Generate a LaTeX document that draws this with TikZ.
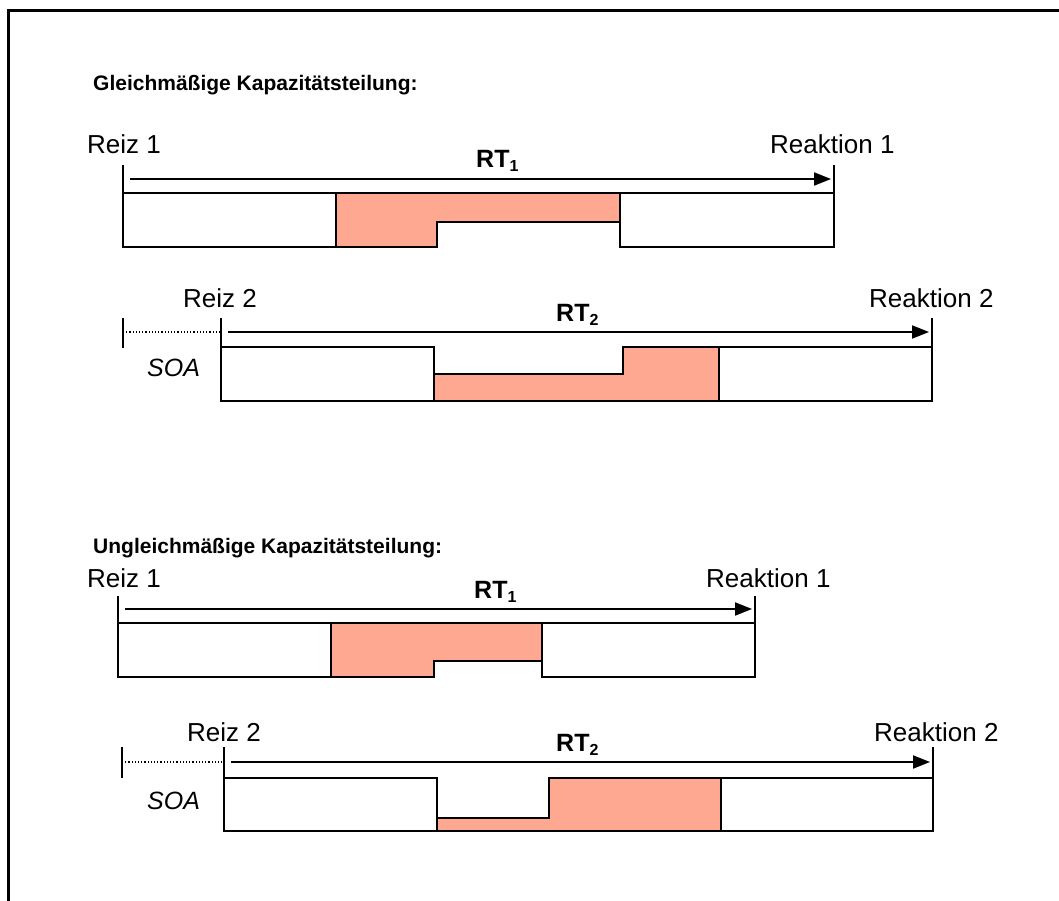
\documentclass[tikz,border=0pt]{standalone}
\usepackage{fontspec}
\setmainfont{Liberation Sans}
\usetikzlibrary{arrows.meta}
\definecolor{load}{RGB}{255,168,145}

\begin{document}
\begin{tikzpicture}[x=1pt,y=-1pt,
  lbl/.style={anchor=base west, inner sep=0pt, font=\fontsize{26}{30}\selectfont},
  head/.style={anchor=base west, inner sep=0pt, font=\fontsize{21}{25}\selectfont\bfseries},
  rt/.style={anchor=base west, inner sep=0pt, font=\fontsize{25}{30}\selectfont\bfseries},
  soa/.style={anchor=base west, inner sep=0pt, font=\fontsize{25}{30}\selectfont\itshape},
  tick/.style={line width=2pt},
  box/.style={line width=2pt, line join=miter},
  time/.style={line width=2pt, -{Triangle[length=17pt,width=13pt]}},
  lag/.style={line width=1.2pt, dotted},
  share/.style={fill=load, draw=none},
  frame/.style={line width=3pt, line join=miter}
]
\newcommand{\RTsub}[1]{RT\raisebox{-4pt}{\fontsize{16}{16}\selectfont\bfseries #1}}
\useasboundingbox (0,0) rectangle (1059,901);
\fill[white] (0,0) rectangle (1059,901);
\draw[frame] (8,901) -- (8,11) -- (1059,11);

% ---------- equal sharing ----------
\node[head] (titleA) at (93,91) {Gleichmäßige Kapazitätsteilung:};

% task 1
\node[lbl] (reizA1) at (87,154) {Reiz 1};
\node[lbl] (reakA1) at (770,154) {Reaktion 1};
\coordinate (sA1) at (123,179);
\coordinate (eA1) at (834,179);
\draw[tick] (123,165) -- (123,193);
\draw[tick] (834,165) -- (834,193);
\draw[time] ([xshift=7pt]sA1) -- ([xshift=-3pt]eA1);
\node[rt] (rtA1) at (476,168) {\RTsub{1}};
\fill[share] (336,193) -- (620,193) -- (620,222) -- (437,222) -- (437,247) -- (336,247) -- cycle;
\draw[box] (123,193) -- (834,193) -- (834,247) -- (620,247) -- (620,222) -- (437,222) -- (437,247) -- (123,247) -- cycle;
\draw[box] (336,193) -- (336,247);
\draw[box] (620,193) -- (620,222);

% task 2
\node[lbl] (reizA2) at (183,307) {Reiz 2};
\node[lbl] (reakA2) at (869,307) {Reaktion 2};
\node[soa] (soaA) at (147,376) {SOA};
\coordinate (oA) at (123,332);
\coordinate (sA2) at (221,332);
\coordinate (eA2) at (932,332);
\draw[tick] (123,318) -- (123,348);
\draw[tick] (221,318) -- (221,347);
\draw[tick] (932,318) -- (932,347);
\draw[lag] (oA) -- (sA2);
\draw[time] ([xshift=7pt]sA2) -- ([xshift=-3pt]eA2);
\node[rt] (rtA2) at (556,321) {\RTsub{2}};
\fill[share] (434,374) -- (623,374) -- (623,347) -- (719,347) -- (719,401) -- (434,401) -- cycle;
\draw[box] (221,347) -- (434,347) -- (434,374) -- (623,374) -- (623,347) -- (932,347) -- (932,401) -- (221,401) -- cycle;
\draw[box] (434,374) -- (434,401);
\draw[box] (719,347) -- (719,401);

% ---------- unequal sharing ----------
\node[head] (titleB) at (93,553) {Ungleichmäßige Kapazitätsteilung:};

% task 1
\node[lbl] (reizB1) at (87,587) {Reiz 1};
\node[lbl] (reakB1) at (706,587) {Reaktion 1};
\coordinate (sB1) at (118,609);
\coordinate (eB1) at (755,609);
\draw[tick] (118,596) -- (118,623);
\draw[tick] (755,596) -- (755,623);
\draw[time] ([xshift=7pt]sB1) -- ([xshift=-3pt]eB1);
\node[rt] (rtB1) at (474,598) {\RTsub{1}};
\fill[share] (331,623) -- (542,623) -- (542,661) -- (434,661) -- (434,677) -- (331,677) -- cycle;
\draw[box] (118,623) -- (755,623) -- (755,677) -- (542,677) -- (542,661) -- (434,661) -- (434,677) -- (118,677) -- cycle;
\draw[box] (331,623) -- (331,677);
\draw[box] (542,623) -- (542,661);

% task 2
\node[lbl] (reizB2) at (187,741) {Reiz 2};
\node[lbl] (reakB2) at (874,741) {Reaktion 2};
\node[soa] (soaB) at (147,809) {SOA};
\coordinate (oB) at (122,762);
\coordinate (sB2) at (224,762);
\coordinate (eB2) at (933,762);
\draw[tick] (122,747) -- (122,778);
\draw[tick] (224,747) -- (224,778);
\draw[tick] (933,747) -- (933,778);
\draw[lag] (oB) -- (sB2);
\draw[time] ([xshift=7pt]sB2) -- ([xshift=-3pt]eB2);
\node[rt] (rtB2) at (556,751) {\RTsub{2}};
\fill[share] (437,818) -- (549,818) -- (549,778) -- (721,778) -- (721,831) -- (437,831) -- cycle;
\draw[box] (224,778) -- (437,778) -- (437,818) -- (549,818) -- (549,778) -- (933,778) -- (933,831) -- (224,831) -- cycle;
\draw[box] (437,818) -- (437,831);
\draw[box] (721,778) -- (721,831);
\end{tikzpicture}
\end{document}
